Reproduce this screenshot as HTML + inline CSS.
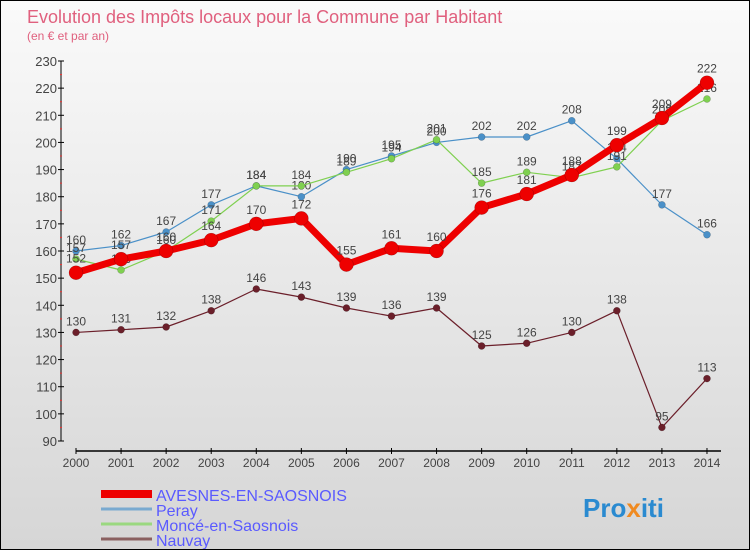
<!DOCTYPE html>
<html><head><meta charset="utf-8"><style>
body{margin:0;}
#c{width:748px;height:548px;border:1px solid #000;background:linear-gradient(#fafafa,#d6d6d6);position:relative;overflow:hidden;font-family:"Liberation Sans",sans-serif;}
</style></head><body>
<div id="c">
<svg id="s" width="748" height="548" style="position:absolute;left:0;top:0">
<text x="26" y="22" font-size="18" fill="#e0607e">Evolution des Impôts locaux pour la Commune par Habitant</text>
<text x="26" y="39" font-size="12" fill="#e0607e">(en € et par an)</text>
<g id="axes"></g><g id="series"></g><g id="legend"></g>
<text x="582" y="516" font-size="26" font-weight="bold" fill="#2a8ad0">Pro<tspan fill="#f08a20">x</tspan>iti</text>
</svg></div>
<script>
const years=[2000,2001,2002,2003,2004,2005,2006,2007,2008,2009,2010,2011,2012,2013,2014];
const yTicks=[90,100,110,120,130,140,150,160,170,180,190,200,210,220,230];
const avesnes=[152,157,160,164,170,172,155,161,160,176,181,188,199,209,222];
const peray=[160,162,167,177,184,180,190,195,200,202,202,208,194,177,166];
const monce=[157,153,160,171,184,184,189,194,201,185,189,187,191,208,216];
const nauvay=[130,131,132,138,146,143,139,136,139,125,126,130,138,95,113];
const NS="http://www.w3.org/2000/svg";
const X=i=>75+i*45.07, Y=v=>440-(v-90)*380/140;
function mk(t,a,p){const e=document.createElementNS(NS,t);for(const k in a)e.setAttribute(k,a[k]);p.appendChild(e);return e;}
const ax=document.getElementById('axes');
let e=mk('line',{x1:60,y1:60,x2:60,y2:440,stroke:'#000'},ax);

e=mk('line',{x1:75,y1:450,x2:720,y2:450,stroke:'#000','stroke-width':1.5},ax);

yTicks.forEach(v=>{mk('line',{x1:57,y1:Y(v),x2:63,y2:Y(v),stroke:'#000'},ax);
 if(v<230)mk('line',{x1:59,y1:Y(v+5),x2:61,y2:Y(v+5),stroke:'#e33'},ax);
 const t=mk('text',{x:56,y:Y(v)+5,'text-anchor':'end','font-size':13,fill:'#444'},ax);t.textContent=v;
 });
years.forEach((y,i)=>{mk('line',{x1:X(i),y1:447,x2:X(i),y2:453,stroke:'#000'},ax);
 const t=mk('text',{x:X(i),y:466,'text-anchor':'middle','font-size':12,fill:'#444'},ax);t.textContent=y;
 });
const sg=document.getElementById('series');
function draw(d,col,w,r,name,lblDy){
 const g=mk('g',{},sg);
 mk('polyline',{points:d.map((v,i)=>X(i)+','+Y(v)).join(' '),fill:'none',stroke:col,'stroke-width':w,'stroke-linejoin':'round'},g);
 d.forEach((v,i)=>{const c=mk('circle',{cx:X(i),cy:Y(v),r:r,fill:col,stroke:'rgba(0,0,0,0.3)','stroke-width':0.5},g);
  
  const t=mk('text',{x:X(i),y:Y(v)-lblDy,'text-anchor':'middle','font-size':12,fill:'#444'},g);t.textContent=v;
  });
}
draw(nauvay,'#6b1f2a',1.2,3.5,'nauvay',7);
draw(peray,'#4a90c8',1.2,3.5,'peray',7);
draw(monce,'#7fd050',1.2,3.5,'monce',7);
draw(avesnes,'#ee0000',7,7,'avesnes',10);
const lg=document.getElementById('legend');
const L=[['AVESNES-EN-SAOSNOIS','#ee0000',8],['Peray','#7aaad0',3],['Moncé-en-Saosnois','#9ad880',3],['Nauvay','#8a6060',3]];
L.forEach((l,i)=>{const y=493+i*15;const g=mk('g',{},lg);
 
 mk('line',{x1:100,y1:y,x2:151,y2:y,stroke:l[1],'stroke-width':l[2]},g);
 const t=mk('text',{x:155,y:y+7,'font-size':16,fill:'#5a5aff'},g);t.textContent=l[0];});
</script>
</body></html>
